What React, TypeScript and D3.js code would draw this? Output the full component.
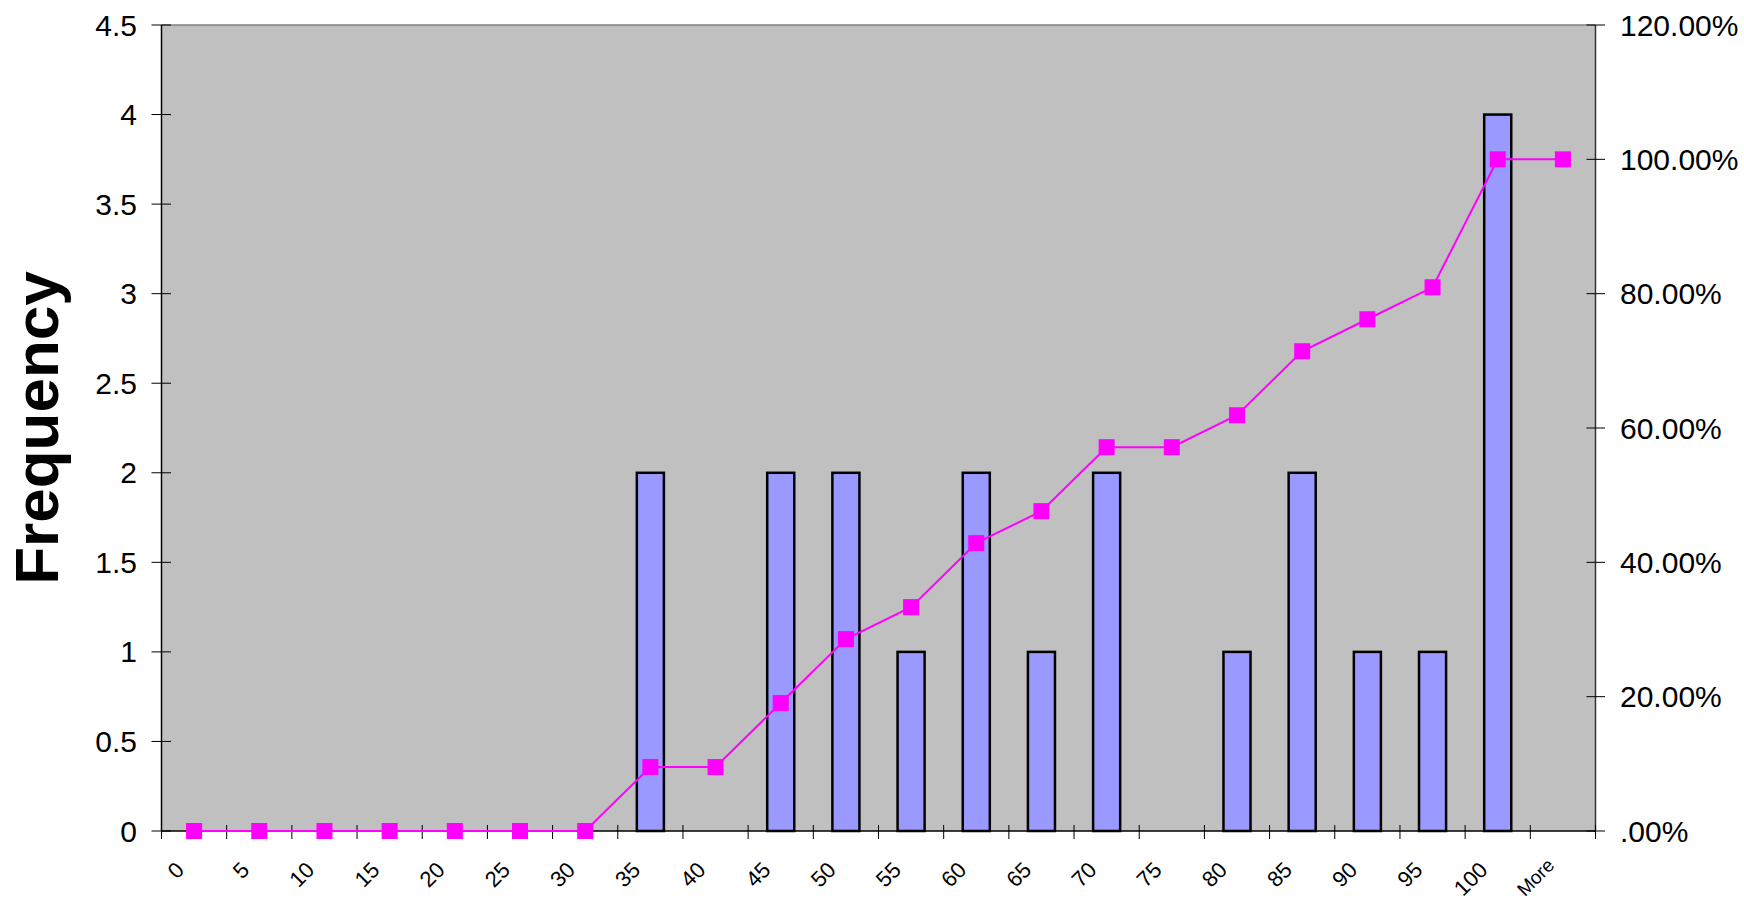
import React from "react";
import * as d3 from "d3";

const categories = ["0","5","10","15","20","25","30","35","40","45","50","55","60","65","70","75","80","85","90","95","100","More"];
const frequency = [0,0,0,0,0,0,0,2,0,2,2,1,2,1,2,0,1,2,1,1,4,0];
const cumulative = [0,0,0,0,0,0,0,9.52,9.52,19.05,28.57,33.33,42.86,47.62,57.14,57.14,61.90,71.43,76.19,80.95,100,100];
const leftTicks = [0,0.5,1,1.5,2,2.5,3,3.5,4,4.5];
const rightTicks = [0,20,40,60,80,100,120];
const rightTickLabels = [".00%","20.00%","40.00%","60.00%","80.00%","100.00%","120.00%"];

const W = 1744, H = 903;
const L = 161.5, R = 1595.5, T = 25, B = 831;
const FONT = "'Liberation Sans', Arial, sans-serif";

export default function App() {
  const x = d3.scaleBand<string>().domain(categories).range([L, R]).paddingInner(0).paddingOuter(0);
  const yL = d3.scaleLinear().domain([0, 4.5]).range([B, T]);
  const yR = d3.scaleLinear().domain([0, 120]).range([B, T]);
  const bw = x.bandwidth();
  const barW = bw * 0.415;
  const cx = (c: string) => (x(c) as number) + bw / 2;
  const lineGen = d3.line<number>().x((_, i) => cx(categories[i])).y((d) => yR(d));
  const bounds = d3.range(categories.length + 1).map((i) => L + i * bw);

  return (
    <svg width={W} height={H} style={{ position: "absolute", left: 0, top: 0 }} fontFamily={FONT}>
      <rect x={0} y={0} width={W} height={H} fill="#ffffff" />
      <rect x={L} y={T} width={R - L} height={B - T} fill="#C0C0C0" />
      <line x1={L} x2={R} y1={T} y2={T} stroke="#808080" strokeWidth={1.5} />
      {frequency.map((v, i) =>
        v > 0 ? (
          <rect key={i} x={cx(categories[i]) - barW / 2} y={yL(v)} width={barW} height={B - yL(v)}
            fill="#9999FF" stroke="#000" strokeWidth={2.5} />
        ) : null
      )}
      <line x1={L} x2={R} y1={B} y2={B} stroke="#000" strokeWidth={1.5} />
      <line x1={L} x2={L} y1={T} y2={B} stroke="#000" strokeWidth={1.5} />
      <line x1={R} x2={R} y1={T} y2={B} stroke="#333" strokeWidth={1.5} />
      {bounds.map((bx, i) => (
        <line key={i} x1={bx} x2={bx} y1={825} y2={839} stroke="#000" strokeWidth={1} />
      ))}
      {leftTicks.map((t) => (
        <g key={t}>
          <line x1={151.5} x2={171} y1={yL(t)} y2={yL(t)} stroke="#000" strokeWidth={1} />
          <text x={137} y={yL(t)} textAnchor="end" dominantBaseline="central" fontSize={30} fill="#000">{t}</text>
        </g>
      ))}
      {rightTicks.map((t, i) => (
        <g key={t}>
          <line x1={1586.5} x2={1605} y1={yR(t)} y2={yR(t)} stroke="#000" strokeWidth={1} />
          <text x={1620} y={yR(t)} textAnchor="start" dominantBaseline="central" fontSize={30} fill="#000">{rightTickLabels[i]}</text>
        </g>
      ))}
      {categories.map((c) => (
        <text key={c} transform={`translate(${cx(c) - (c === "More" ? 12 : 14)},${c === "More" ? 862 : 866}) rotate(-45)`} textAnchor="end"
          dominantBaseline="central" fontSize={c === "More" ? 19 : 22} fill="#000">{c}</text>
      ))}
      <path d={lineGen(cumulative) || ""} fill="none" stroke="#FF00FF" strokeWidth={2} />
      {cumulative.map((v, i) => (
        <rect key={i} x={cx(categories[i]) - 8} y={yR(v) - 8} width={16} height={16} fill="#FF00FF" />
      ))}
      <text transform={`translate(58,428) rotate(-90)`} textAnchor="middle" fontSize={62} fontWeight="bold" fill="#000">Frequency</text>
    </svg>
  );
}
